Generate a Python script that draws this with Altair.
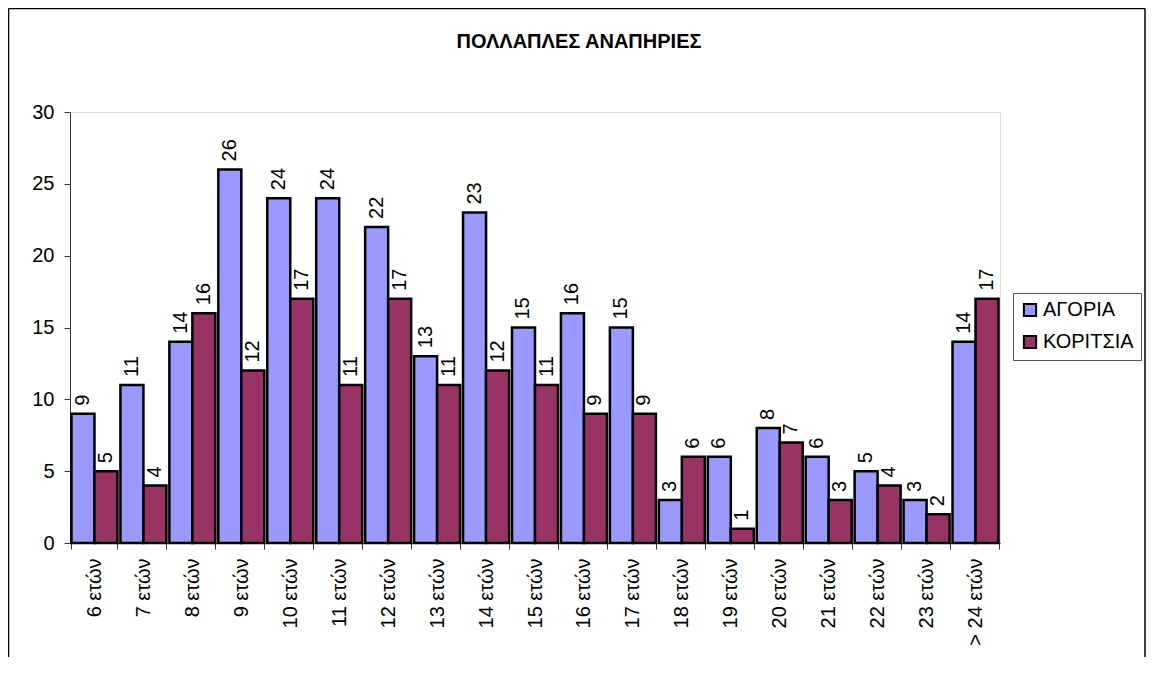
import altair as alt
import pandas as pd

categories = ["6 ετών", "7 ετών", "8 ετών", "9 ετών", "10 ετών", "11 ετών", "12 ετών",
              "13 ετών", "14 ετών", "15 ετών", "16 ετών", "17 ετών", "18 ετών", "19 ετών",
              "20 ετών", "21 ετών", "22 ετών", "23 ετών", "> 24 ετών"]
boys = [9, 11, 14, 26, 24, 24, 22, 13, 23, 15, 16, 15, 3, 6, 8, 6, 5, 3, 14]
girls = [5, 4, 16, 12, 17, 11, 17, 11, 12, 11, 9, 9, 6, 1, 7, 3, 4, 2, 17]
series = ["ΑΓΟΡΙΑ", "ΚΟΡΙΤΣΙΑ"]
colors = ["#9999FF", "#993366"]
y_ticks = [0, 5, 10, 15, 20, 25, 30]
title_text = "ΠΟΛΛΑΠΛΕΣ ΑΝΑΠΗΡΙΕΣ"

rows = []
for c, b, g in zip(categories, boys, girls):
    rows.append({"cat": c, "series": series[0], "value": b})
    rows.append({"cat": c, "series": series[1], "value": g})
df = pd.DataFrame(rows)

FONT = "Liberation Sans"

x_enc = alt.X("cat:N", sort=categories,
              scale=alt.Scale(paddingInner=0.06, paddingOuter=0.03),
              axis=alt.Axis(title=None, labelAngle=270, labelAlign="right",
                            labelBaseline="middle", tickBand="extent", tickSize=6,
                            labelPadding=9, labelFontSize=20, labelFont=FONT,
                            labelColor="#000", domainColor="#333", tickColor="#333",
                            grid=False))
y_enc = alt.Y("value:Q", scale=alt.Scale(domain=[0, 30], nice=False),
              axis=alt.Axis(title=None, values=y_ticks, tickSize=6, labelPadding=10,
                            labelFontSize=20, labelFont=FONT, labelColor="#000",
                            domainColor="#333", tickColor="#333", grid=False))
xoff = alt.XOffset("series:N", sort=series, scale=alt.Scale(paddingInner=0, paddingOuter=0))

bars = alt.Chart(df).mark_bar(stroke="#000", strokeWidth=2.5).encode(
    x=x_enc,
    xOffset=xoff,
    y=y_enc,
    color=alt.Color("series:N", sort=series,
                    scale=alt.Scale(domain=series, range=colors),
                    legend=alt.Legend(title=None, orient="none", legendX=943, legendY=181,
                                      strokeColor="#555", padding=7, symbolType="square",
                                      symbolSize=150, symbolStrokeColor="#000",
                                      symbolStrokeWidth=2, symbolOpacity=1,
                                      labelFontSize=20, labelFont=FONT, labelColor="#000",
                                      labelOffset=3, rowPadding=10)),
)

labels = alt.Chart(df).mark_text(angle=270, align="left", baseline="middle", dx=8,
                                 fontSize=20, font=FONT, color="#000").encode(
    x=alt.X("cat:N", sort=categories),
    xOffset=alt.XOffset("series:N", sort=series),
    y="value:Q",
    text="value:Q",
)

one = pd.DataFrame({"k": [0]})
border = alt.Chart(one).mark_rule(color="#000", strokeWidth=1.5).encode(
    x=alt.value(-61.5), x2=alt.value(1075), y=alt.value(-103.5)
)
border_l = alt.Chart(one).mark_rule(color="#000", strokeWidth=1.5).encode(
    x=alt.value(-61.5), y=alt.value(-103.5), y2=alt.value(1000)
)
border_r = alt.Chart(one).mark_rule(color="#000", strokeWidth=1.5).encode(
    x=alt.value(1075), y=alt.value(-103.5), y2=alt.value(1000)
)

chart = alt.layer(bars, labels, border, border_l, border_r).properties(
    width=930, height=431,
    autosize=alt.AutoSizeParams(type="none"),
    padding={"left": 62, "top": 104, "right": 146, "bottom": 114},
    title=alt.TitleParams(title_text, anchor="middle", dx=44, offset=-44,
                          fontSize=20, font=FONT, fontWeight="bold", color="#000"),
).configure_view(strokeOpacity=0).configure(background="white")

chart.save("out.html", embed_options={"renderer": "svg", "actions": False})
